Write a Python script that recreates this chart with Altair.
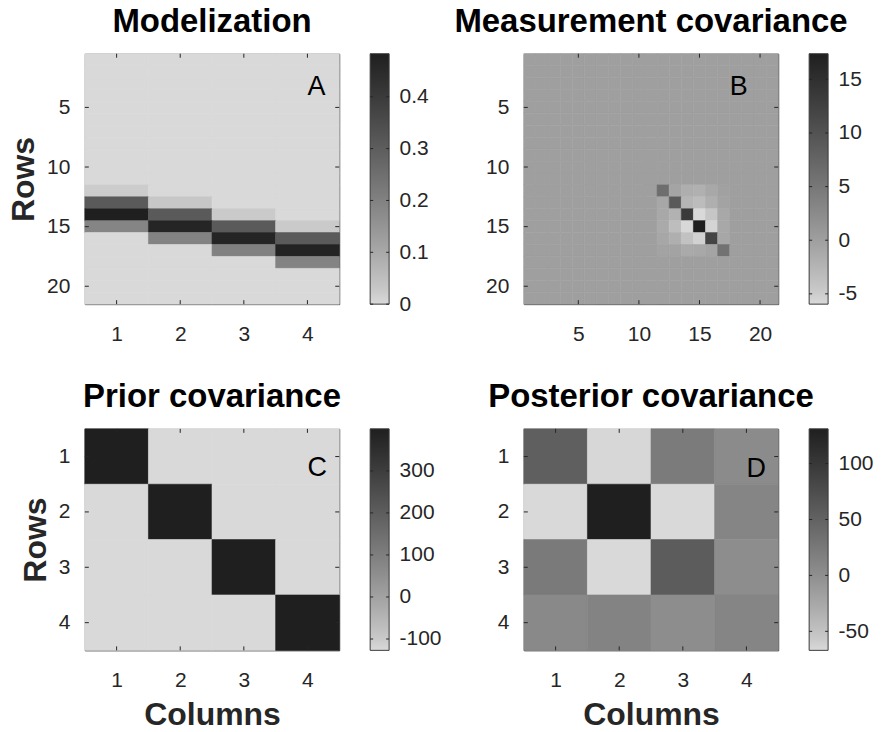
import altair as alt
import numpy as np
import pandas as pd

# ---------------- data ----------------
# Panel A : modelization matrix (21 rows x 4 columns), non-zero band per column
model_n_rows = 21
model_cols = [1, 2, 3, 4]
model_start_rows = [12, 13, 14, 15]
model_weights = [
    [0.021, 0.310, 0.483, 0.190],
    [0.030, 0.310, 0.465, 0.195],
    [0.025, 0.310, 0.465, 0.200],
    [0.025, 0.310, 0.470, 0.195],
]

# Panel B : measurement covariance (21 x 21), zero except a 6x6 block at rows/cols 12..17
meas_n = 21
meas_block_start = 12
meas_block = [
    [6.2, -0.6, -1.7, -2.0, -1.1, -0.15],
    [-0.9, 9.0, -2.5, -3.3, -1.8, -0.4],
    [-1.1, -2.2, 13.5, -5.96, -4.4, -1.1],
    [-1.3, -3.4, -5.9, 17.39, -5.6, -1.1],
    [-0.9, -1.8, -3.95, -5.3, 12.0, -0.9],
    [-0.4, -0.4, -1.3, -1.1, -0.6, 5.7],
]

# Panel C : prior covariance (4 x 4)
prior_cov = [
    [400, -127, -127, -127],
    [-127, 400, -127, -127],
    [-127, -127, 400, -127],
    [-127, -127, -127, 400],
]

# Panel D : posterior covariance (4 x 4)
post_cov = [
    [54.6, -66, 21.7, 4.3],
    [-67, 131, -67, 10.8],
    [22.9, -67, 57.1, 2.1],
    [6.5, 12.8, 2.1, 10.8],
]

titles = ["Modelization", "Measurement covariance", "Prior covariance", "Posterior covariance"]
letters = ["A", "B", "C", "D"]
ticks_A_x, ticks_A_y = [1, 2, 3, 4], [5, 10, 15, 20]
ticks_B_x, ticks_B_y = [5, 10, 15, 20], [5, 10, 15, 20]
ticks_CD = [1, 2, 3, 4]
cbar_ticks_A = [0, 0.1, 0.2, 0.3, 0.4]
cbar_ticks_B = [-5, 0, 5, 10, 15]
cbar_ticks_C = [-100, 0, 100, 200, 300]
cbar_ticks_D = [-50, 0, 50, 100]

# ---------------- build tables ----------------
def cells(mat):
    rows = []
    for r, row in enumerate(mat, start=1):
        for c, v in enumerate(row, start=1):
            rows.append({"x0": c - 0.5, "x1": c + 0.5, "y0": r - 0.5, "y1": r + 0.5, "v": v})
    return pd.DataFrame(rows)

matA = [[0.0] * len(model_cols) for _ in range(model_n_rows)]
for j, (start, w) in enumerate(zip(model_start_rows, model_weights)):
    for k, val in enumerate(w):
        matA[start - 1 + k][j] = val

matB = [[0.0] * meas_n for _ in range(meas_n)]
for i, row in enumerate(meas_block):
    for j, val in enumerate(row):
        matB[meas_block_start - 1 + i][meas_block_start - 1 + j] = val

# ---------------- styling ----------------
FONT = "Liberation Sans"
TXT = "#262626"
FRAME = "#3a3a3a"
LIGHT, DARK, GAMMA = 217, 31, 0.85
TS = [0, 0.05, 0.1, 0.2, 0.35, 0.5, 0.7, 0.85, 1.0]


def gray_hex(t):
    g = int(round(LIGHT - (LIGHT - DARK) * t ** GAMMA))
    return f"#{g:02x}{g:02x}{g:02x}"


W = 255
CB_X0, CB_X1 = 286, 305
LABEL_EXPR = "'' + datum.value"


def panel(mat, ticks_x, ticks_y, cticks, title, letter, lx, ly, h, xtitle, ytitle):
    df = cells(mat)
    nrow, ncol = len(mat), len(mat[0])
    vals = [v for row in mat for v in row]
    vmin, vmax = min(vals), max(vals)
    xs = alt.Scale(domain=[0.5, ncol + 0.5], nice=False, zero=False)
    ys = alt.Scale(domain=[0.5, nrow + 0.5], nice=False, zero=False, reverse=True)
    cs = alt.Scale(domain=[vmin + t * (vmax - vmin) for t in TS],
                   range=[gray_hex(t) for t in TS], interpolate="rgb")
    xaxis = alt.Axis(values=ticks_x, labelExpr=LABEL_EXPR, labelPadding=19, titlePadding=9,
                     title="Columns" if xtitle else "")
    yaxis = alt.Axis(values=ticks_y, labelExpr=LABEL_EXPR, labelPadding=15, titlePadding=6,
                     title="Rows" if ytitle else "")
    rect = alt.Chart(df).mark_rect(strokeWidth=0.6).encode(
        x=alt.X("x0:Q", scale=xs, axis=xaxis),
        x2="x1:Q",
        y=alt.Y("y0:Q", scale=ys, axis=yaxis),
        y2="y1:Q",
        color=alt.Color("v:Q", scale=cs, legend=None),
        stroke=alt.Stroke("v:Q", scale=cs, legend=None),
    )
    xt = pd.DataFrame({"x0": ticks_x})
    yt = pd.DataFrame({"t": ticks_y})
    tx_top = alt.Chart(xt).mark_rule(color=TXT).encode(
        x=alt.X("x0:Q", scale=xs, axis=xaxis), y=alt.value(0), y2=alt.value(4))
    tx_bot = alt.Chart(xt).mark_rule(color=TXT).encode(
        x=alt.X("x0:Q", scale=xs, axis=xaxis), y=alt.value(h - 4), y2=alt.value(h))
    ty_l = alt.Chart(yt).mark_rule(color=TXT).encode(
        y=alt.Y("t:Q", scale=ys, axis=None), x=alt.value(0), x2=alt.value(4))
    ty_r = alt.Chart(yt).mark_rule(color=TXT).encode(
        y=alt.Y("t:Q", scale=ys, axis=None), x=alt.value(W - 4), x2=alt.value(W))
    lab = alt.Chart(pd.DataFrame({"s": [letter], "x0": [lx], "ly": [ly]})).mark_text(
        align="left", baseline="middle", font=FONT, fontSize=27, color="black"
    ).encode(x=alt.X("x0:Q", scale=xs, axis=xaxis), y=alt.Y("ly:Q", scale=ys, axis=None), text="s:N")

    # colour bar drawn beside the image, on its own y scale
    cys = alt.Scale(domain=[vmin, vmax], nice=False, zero=False)
    grad = alt.LinearGradient(
        gradient="linear",
        stops=[alt.GradientStop(color=gray_hex(t), offset=t) for t in TS],
        x1=0, x2=0, y1=1, y2=0,
    )
    cbar = alt.Chart(pd.DataFrame({"lo": [vmin], "hi": [vmax]})).mark_rect(
        fill=grad, stroke=FRAME, strokeWidth=1
    ).encode(
        y=alt.Y("lo:Q", scale=cys, axis=alt.Axis(values=cticks, orient="right", title="",
                                                offset=CB_X1 - W, labelExpr=LABEL_EXPR,
                                                labelPadding=10)),
        y2="hi:Q", x=alt.value(CB_X0), x2=alt.value(CB_X1),
    )
    tdf = pd.DataFrame({"t": cticks})
    cb_tl = alt.Chart(tdf).mark_rule(color=TXT).encode(
        y=alt.Y("t:Q", scale=cys, axis=None), x=alt.value(CB_X0), x2=alt.value(CB_X0 + 3))
    cb_tr = alt.Chart(tdf).mark_rule(color=TXT).encode(
        y=alt.Y("t:Q", scale=cys, axis=None), x=alt.value(CB_X1 - 3), x2=alt.value(CB_X1))

    return alt.layer(rect, tx_top, tx_bot, ty_l, ty_r, lab, cbar, cb_tl, cb_tr).resolve_scale(
        y="independent"
    ).properties(
        width=W, height=h,
        title=alt.TitleParams(title, font=FONT, fontSize=33, fontWeight="bold",
                              color="black", frame="group", anchor="middle", offset=14),
    )


H_TOP, H_BOT = 251, 222
pA = panel(matA, ticks_A_x, ticks_A_y, cbar_ticks_A, titles[0], letters[0], 4.0, 3.3, H_TOP, False, True)
pB = panel(matB, ticks_B_x, ticks_B_y, cbar_ticks_B, titles[1], letters[1], 17.5, 3.3, H_TOP, False, False)
pC = panel(prior_cov, ticks_CD, ticks_CD, cbar_ticks_C, titles[2], letters[2], 4.0, 1.2, H_BOT, True, True)
pD = panel(post_cov, ticks_CD, ticks_CD, cbar_ticks_D, titles[3], letters[3], 4.0, 1.22, H_BOT, True, False)

chart = alt.concat(pA, pB, pC, pD, columns=2, spacing={"column": 185, "row": 125}).resolve_scale(
    color="independent", stroke="independent", x="independent"
).properties(
    bounds="flush",
    padding={"left": -1, "top": -3, "right": 0, "bottom": 0},
    background="white",
).configure_view(
    stroke=FRAME, strokeWidth=1
).configure_axis(
    labelFont=FONT, labelFontSize=21, labelColor=TXT,
    titleFont=FONT, titleFontSize=32, titleFontWeight="bold", titleColor=TXT,
    ticks=False, domain=False, grid=False,
)

chart.save("out.html", embed_options={"renderer": "svg", "actions": False})
